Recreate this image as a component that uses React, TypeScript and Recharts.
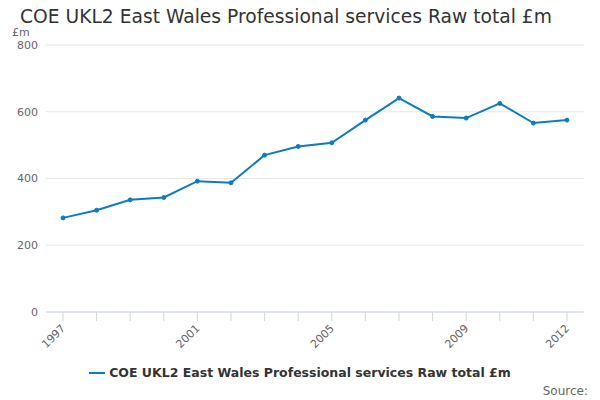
import React from 'react';
import { LineChart, Line, XAxis, YAxis, CartesianGrid, Legend } from 'recharts';

const years = ['1997', '1998', '1999', '2000', '2001', '2002', '2003', '2004', '2005', '2006', '2007', '2008', '2009', '2010', '2011', '2012'];
const rawTotal = [282, 305, 336, 343, 392, 387, 470, 496, 507, 575, 641, 586, 581, 625, 566, 575];
const shownYears = ['1997', '2001', '2005', '2009', '2012'];
const yTicks = [0, 200, 400, 600, 800];

const seriesName = 'COE UKL2 East Wales Professional services Raw total £m';
const data = years.map((year, i) => ({ year, value: rawTotal[i] }));

const FONT = '"DejaVu Sans", sans-serif';
const BLUE = '#0c7bc0';

const YearTick = (props: any) => {
  const { x, y, payload } = props;
  if (!shownYears.includes(payload.value)) return null;
  return (
    <text
      x={x + 3}
      y={y + 6}
      textAnchor="end"
      fill="#666666"
      fontSize={11}
      fontFamily={FONT}
      transform={`rotate(-45 ${x + 3} ${y + 6})`}
    >
      {payload.value}
    </text>
  );
};

const App: React.FC = () => {
  return (
    <div style={{ margin: '-8px -8px 0', position: 'relative', width: 600, height: 400, background: '#fff', fontFamily: FONT }}>
      <div style={{ position: 'absolute', left: 20, top: 6, fontSize: 18.7, color: '#333333', whiteSpace: 'nowrap' }}>
        {seriesName}
      </div>
      <div style={{ position: 'absolute', left: 12, top: 26, fontSize: 11, color: '#666666' }}>£m</div>
      <LineChart width={600} height={400} data={data} margin={{ top: 45, right: 16, left: 8, bottom: 20 }}>
        <CartesianGrid vertical={false} stroke="#e6e6e6" />
        <XAxis
          dataKey="year"
          interval={0}
          padding={{ left: 17, right: 17 }}
          tick={<YearTick />}
          tickSize={9}
          tickLine={{ stroke: '#ccd6eb' }}
          axisLine={{ stroke: '#ccd6eb' }}
          height={40}
        />
        <YAxis
          domain={[0, 800]}
          ticks={yTicks}
          width={38}
          tickLine={false}
          axisLine={false}
          tick={{ fill: '#666666', fontSize: 11, fontFamily: FONT }}
        />
        <Legend
          verticalAlign="bottom"
          height={28}
          wrapperStyle={{ top: 362, left: 17 }}
          iconType="plainline"
          iconSize={16}
          formatter={(value: string) => (
            <span style={{ color: '#333333', fontSize: 12.5, fontWeight: 'bold', fontFamily: FONT }}>{value}</span>
          )}
        />
        <Line
          type="linear"
          dataKey="value"
          name={seriesName}
          stroke={BLUE}
          strokeWidth={2}
          dot={{ r: 2, fill: BLUE, stroke: BLUE, strokeWidth: 1 }}
          isAnimationActive={false}
        />
      </LineChart>
      <div style={{ position: 'absolute', right: 12, top: 384, fontSize: 12, lineHeight: '14px', color: '#666666' }}>Source:</div>
    </div>
  );
};

export default App;
